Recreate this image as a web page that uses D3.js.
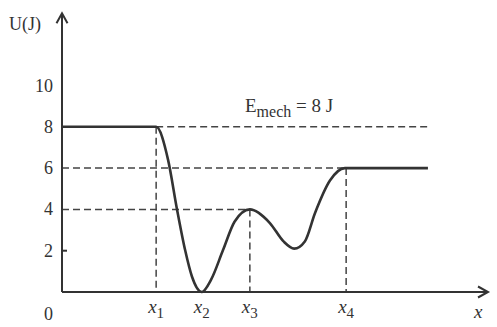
<!DOCTYPE html>
<html lang="en">
<head>
  <meta charset="UTF-8">
  <title>Potential energy diagram</title>
  <script src="https://d3js.org/d3.v7.min.js"></script>
  <style>
    body { margin: 0; background: #fff; overflow: hidden; }
    svg { display: block; }
    text { font-family: "Liberation Serif", serif; fill: #333; }
  </style>
</head>
<body>
  <script>
    // potential energy curve U(x), x in arbitrary units
    const curveX = [0, 2.21, 2.49, 2.70, 2.89, 3.05, 3.28, 3.50, 3.78, 4.05, 4.41, 4.88, 5.20, 5.45, 5.70, 5.94, 6.29, 6.64, 8.59];
    const curveU = [8, 8, 6.4, 4.0, 2.03, 0.75, 0, 0.6, 2.03, 3.4, 4.0, 3.34, 2.45, 2.1, 2.45, 3.83, 5.4, 6.0, 6.0];

    const yTicks = [0, 2, 4, 6, 8, 10];
    const marks = [
      { name: "1", x: 2.21 },
      { name: "2", x: 3.28 },
      { name: "3", x: 4.41 },
      { name: "4", x: 6.67 }
    ];
    const eMech = 8;
    const xEnd = 8.59;

    const W = 497, H = 327;
    const x = d3.scaleLinear().domain([0, 10]).range([62, 488]);
    const y = d3.scaleLinear().domain([0, 10]).range([292, 85.5]);
    const ink = "#333";

    const svg = d3.select("body").append("svg").attr("width", W).attr("height", H);

    // dashed guide lines
    const guides = [
      [[marks[0].x, eMech], [xEnd, eMech]],
      [[0, 6], [marks[3].x, 6]],
      [[0, 4], [marks[2].x, 4]],
      [[marks[0].x, 8], [marks[0].x, 0]],
      [[marks[2].x, 4], [marks[2].x, 0]],
      [[marks[3].x, 6], [marks[3].x, 0]]
    ];
    svg.append("g")
      .selectAll("line")
      .data(guides)
      .join("line")
      .attr("x1", d => x(d[0][0]))
      .attr("y1", d => y(d[0][1]))
      .attr("x2", d => x(d[1][0]))
      .attr("y2", d => y(d[1][1]))
      .attr("stroke", "#444")
      .attr("stroke-width", 1.5)
      .attr("stroke-dasharray", "7,4");

    // curve
    const line = d3.line()
      .x((d, i) => x(curveX[i]))
      .y(d => y(d))
      .curve(d3.curveMonotoneX);
    svg.append("path")
      .attr("d", line(curveU))
      .attr("fill", "none")
      .attr("stroke", ink)
      .attr("stroke-width", 2.6);

    // axes
    const axis = svg.append("g").attr("stroke", ink).attr("stroke-width", 2).attr("fill", "none");
    axis.append("line").attr("x1", x(0)).attr("y1", y(0)).attr("x2", x(0)).attr("y2", y(13.5));
    axis.append("line").attr("x1", x(0)).attr("y1", y(0)).attr("x2", x(10)).attr("y2", y(0));
    axis.append("path").attr("d", `M${x(0) - 5.5},${y(13.5) + 10}L${x(0)},${y(13.5)}L${x(0) + 5.5},${y(13.5) + 10}`);
    axis.append("path").attr("d", `M${x(10) - 10},${y(0) - 5.5}L${x(10)},${y(0)}L${x(10) - 10},${y(0) + 5.5}`);
    axis.append("line").attr("x1", x(0)).attr("x2", x(0) + 5).attr("y1", y(2)).attr("y2", y(2));

    // y tick labels
    svg.append("g")
      .selectAll("text")
      .data(yTicks)
      .join("text")
      .attr("x", 53)
      .attr("y", d => d === 0 ? 320 : y(d) + 6)
      .attr("text-anchor", "end")
      .attr("font-size", 18)
      .text(d => d);

    svg.append("text")
      .attr("x", 9).attr("y", 30)
      .attr("font-size", 18)
      .text("U(J)");

    // x marks
    const xl = svg.append("g")
      .selectAll("text")
      .data(marks)
      .join("text")
      .attr("x", d => x(d.x) - 8)
      .attr("y", 313)
      .attr("font-size", 19);
    xl.append("tspan").attr("font-style", "italic").text("x");
    xl.append("tspan").attr("font-size", 15).attr("dy", 5).text(d => d.name);

    svg.append("text")
      .attr("x", 474).attr("y", 318)
      .attr("font-size", 19)
      .attr("font-style", "italic")
      .text("x");

    const em = svg.append("text")
      .attr("x", 245).attr("y", 112)
      .attr("font-size", 19);
    em.append("tspan").text("E");
    em.append("tspan").attr("font-size", 16).attr("dy", 5).text("mech");
    em.append("tspan").attr("dy", -5).text(" = 8 J");
  </script>
</body>
</html>
